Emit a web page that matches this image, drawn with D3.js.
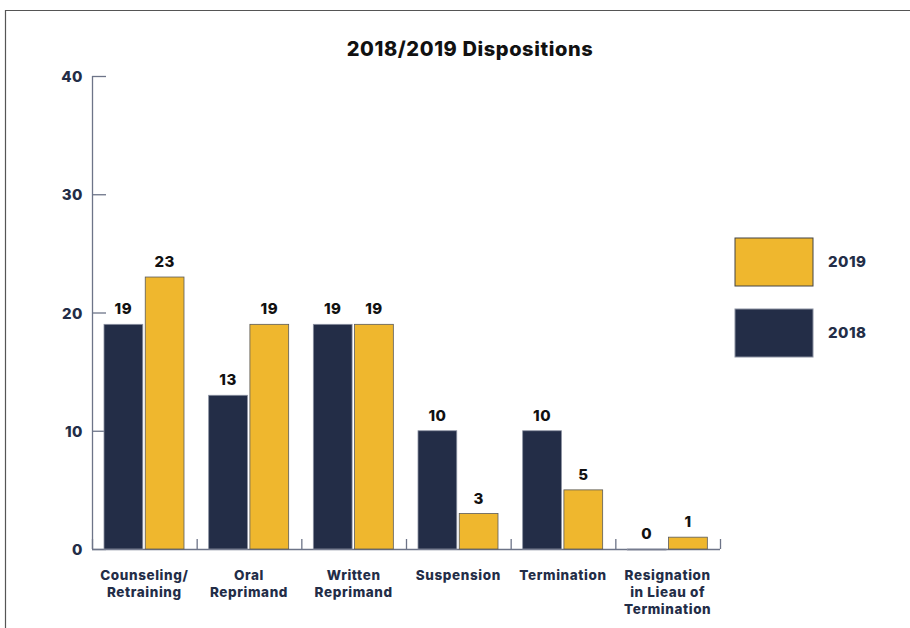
<!DOCTYPE html>
<html>
<head>
<meta charset="utf-8">
<script src="https://cdn.jsdelivr.net/npm/d3@7"></script>
<style>
  html, body { margin: 0; padding: 0; background: #fff; }
  svg { display: block; font-family: "Inter", "Open Sans", sans-serif; }
</style>
</head>
<body>
<svg id="chart" width="910" height="628"></svg>
<script>
// Disposition counts by category and year
const categories = [
  ["Counseling/", "Retraining"],
  ["Oral", "Reprimand"],
  ["Written", "Reprimand"],
  ["Suspension"],
  ["Termination"],
  ["Resignation", "in Lieau of", "Termination"]
];
const series = ["2018", "2019"];
const values2018 = [19, 13, 19, 10, 10, 0];
const values2019 = [23, 19, 19, 3, 5, 1];
const yTicks = [0, 10, 20, 30, 40];

const colors = { "2018": "#232d47", "2019": "#efb72e" };
const navy = "#232d47";

const svg = d3.select("#chart");

// outer frame (left and top edges)
svg.append("path")
  .attr("d", "M5.5,628 L5.5,10.5 L910,10.5")
  .attr("fill", "none")
  .attr("stroke", "#555")
  .attr("stroke-width", 1.2);

svg.append("text")
  .attr("x", 470).attr("y", 56)
  .attr("text-anchor", "middle")
  .attr("font-size", 20).attr("font-weight", 800)
  .attr("letter-spacing", 0.6)
  .attr("fill", "#111")
  .text("2018/2019 Dispositions");

const plotLeft = 92, plotRight = 720, plotTop = 76, plotBottom = 549;

const x = d3.scaleBand()
  .domain(d3.range(categories.length))
  .range([plotLeft, plotRight])
  .paddingInner(0).paddingOuter(0);

const xs = d3.scaleBand()
  .domain(series)
  .range([12, 12 + 80])
  .paddingInner(0.06);

const y = d3.scaleLinear().domain([0, 40]).range([plotBottom, plotTop]);

// y axis
const yAxis = svg.append("g").attr("transform", `translate(${plotLeft},0)`)
  .call(d3.axisRight(y).tickValues(yTicks).tickSize(14).tickFormat(""));
yAxis.select(".domain").attr("stroke", "#6d7488").attr("stroke-width", 1.3)
  .attr("d", `M0.5,${plotTop}V${plotBottom}`);
yAxis.selectAll(".tick line").attr("stroke", "#6d7488").attr("stroke-width", 1.3);

svg.append("g").selectAll("text").data(yTicks).join("text")
  .attr("x", 83).attr("y", d => y(d) + 6)
  .attr("text-anchor", "end")
  .attr("font-size", 15).attr("font-weight", 800)
  .attr("letter-spacing", 0.5)
  .attr("fill", navy)
  .text(d => d);

// x axis baseline with upward boundary ticks
const boundaries = d3.range(categories.length + 1).map(i => plotLeft + i * x.bandwidth());
svg.append("line")
  .attr("x1", plotLeft).attr("x2", plotRight)
  .attr("y1", plotBottom + 0.5).attr("y2", plotBottom + 0.5)
  .attr("stroke", "#6d7488").attr("stroke-width", 1.3);
svg.append("g").selectAll("line").data(boundaries).join("line")
  .attr("x1", d => d + 0.5).attr("x2", d => d + 0.5)
  .attr("y1", plotBottom).attr("y2", plotBottom - 10)
  .attr("stroke", "#6d7488").attr("stroke-width", 1.3);

// bars
const rows = categories.map((c, i) => ({ i, vals: { "2018": values2018[i], "2019": values2019[i] } }));
const groups = svg.append("g").selectAll("g").data(rows).join("g")
  .attr("transform", d => `translate(${x(d.i)},0)`);

groups.selectAll("rect").data(d => series.map(s => ({ s, v: d.vals[s] }))).join("rect")
  .attr("x", d => xs(d.s))
  .attr("width", xs.bandwidth())
  .attr("y", d => y(d.v))
  .attr("height", d => Math.max(1, y(0) - y(d.v)))
  .attr("fill", d => colors[d.s])
  .attr("stroke", d => d.s === "2019" ? "#5a5a5a" : "#8a90a0")
  .attr("stroke-width", 0.8);

groups.selectAll("text.val").data(d => series.map(s => ({ s, v: d.vals[s] }))).join("text")
  .attr("class", "val")
  .attr("x", d => xs(d.s) + xs.bandwidth() / 2)
  .attr("y", d => y(d.v) - 10)
  .attr("text-anchor", "middle")
  .attr("font-size", 15).attr("font-weight", 800)
  .attr("letter-spacing", 0.5)
  .attr("fill", "#111")
  .text(d => d.v);

// category labels
groups.append("text")
  .attr("x", x.bandwidth() / 2)
  .attr("text-anchor", "middle")
  .attr("font-size", 13.5).attr("font-weight", 800)
  .attr("letter-spacing", 0.6)
  .attr("fill", navy)
  .selectAll("tspan").data(d => categories[d.i]).join("tspan")
  .attr("x", x.bandwidth() / 2)
  .attr("y", (d, k) => 580 + k * 17)
  .text(d => d);

// legend
const legendItems = ["2019", "2018"];
const legend = svg.append("g").selectAll("g").data(legendItems).join("g")
  .attr("transform", (d, i) => `translate(735,${238 + i * 71})`);
legend.append("rect")
  .attr("width", 78).attr("height", 48)
  .attr("fill", d => colors[d])
  .attr("stroke", d => d === "2019" ? "#444" : "#8a90a0")
  .attr("stroke-width", 1);
legend.append("text")
  .attr("x", 93).attr("y", 29)
  .attr("font-size", 15).attr("font-weight", 800)
  .attr("letter-spacing", 0.5)
  .attr("fill", navy)
  .text(d => d);
</script>
</body>
</html>
